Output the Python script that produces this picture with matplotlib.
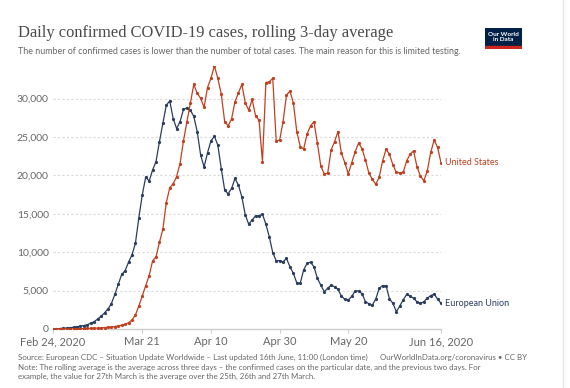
import matplotlib
matplotlib.use("Agg")
import matplotlib.pyplot as plt
import matplotlib.dates as mdates
import pandas as pd

# daily confirmed cases, rolling 3-day average (Feb 24 - Jun 16, 2020)
dates = pd.date_range("2020-02-24", "2020-06-16", freq="D")

eu = [25, 40, 60, 90, 120, 170, 230, 300, 380, 450,
      560, 750, 950, 1300, 1650, 2100, 2600, 3300, 4500, 5800,
      7100, 7600, 8700, 9650, 11150, 14500, 17450, 19800, 19250, 20700,
      21800, 24400, 26800, 29150, 29700, 27400, 26100, 27000, 28600, 28800,
      28500, 27700, 25700, 22650, 21100, 22950, 24500, 25100, 23950, 20900,
      18100, 17600, 18300, 19600, 18750, 17200, 14850, 13650, 14200, 14750,
      14750, 14950, 13650, 12000, 9950, 8900, 8900, 8750, 9200, 8100,
      7250, 6000, 5950, 7700, 8550, 8700, 8100, 6600, 5700, 4850,
      5300, 5700, 5500, 5150, 4300, 3850, 3800, 4250, 4950, 4950,
      4600, 3550, 3300, 3100, 3900, 5300, 5650, 5650, 3900, 3350,
      2250, 3000, 3800, 4500, 4300, 4000, 3550, 3350, 3550, 4000,
      4350, 4550, 3900, 3350]

us = [5, 5, 8, 10, 12, 15, 20, 30, 40, 55,
      70, 85, 100, 120, 150, 180, 220, 260, 320, 400,
      500, 620, 820, 1170, 1820, 3000, 4300, 5650, 6950, 8850,
      9400, 11300, 13000, 16450, 18400, 18900, 19850, 21550, 24500, 27000,
      29400, 31850, 30700, 30050, 28850, 31450, 32650, 34250, 32650, 30600,
      27000, 26450, 27350, 29600, 30750, 31850, 29450, 28500, 29900, 27750,
      27200, 21800, 32100, 32200, 32650, 24500, 24600, 27000, 30450, 31000,
      29450, 25700, 23750, 23450, 25400, 26450, 27000, 24200, 21200, 20200,
      20300, 23300, 24400, 25700, 22900, 21650, 20200, 21650, 23100, 24200,
      23500, 22000, 20300, 19500, 18850, 19750, 21900, 23400, 22750, 21350,
      20400, 20350, 20400, 21900, 22750, 23200, 21150, 19900, 19300, 20600,
      23000, 24600, 23650, 21650]

tick_dates = ["2020-02-24", "2020-03-21", "2020-04-10", "2020-04-30", "2020-05-20", "2020-06-16"]
tick_labels = ["Feb 24, 2020", "Mar 21", "Apr 10", "Apr 30", "May 20", "Jun 16, 2020"]
y_ticks = [0, 5000, 10000, 15000, 20000, 25000, 30000]

us_color = "#c1401f"
eu_color = "#2b3d5f"
grey = "#666666"

plt.rcParams['font.family'] = ['Lato', 'DejaVu Sans']

fig = plt.figure(figsize=(5.7, 3.88), dpi=100)
ax = fig.add_axes([53/570, 59/388, 388/570, 263/388])

ax.plot(dates, eu, color=eu_color, linewidth=0.9, marker="o", markersize=1.3, zorder=3)
ax.plot(dates, us, color=us_color, linewidth=0.9, marker="o", markersize=1.3, zorder=3)

ax.set_xlim(dates[0], dates[-1])
ax.set_ylim(0, max(us))

ax.set_yticks(y_ticks)
ax.set_yticklabels(["0" if v == 0 else f"{v:,}" for v in y_ticks])
ax.set_xticks(pd.to_datetime(tick_dates))
ax.set_xticklabels(tick_labels)

for v in y_ticks[1:]:
    ax.axhline(v, color="#d9d9d9", linewidth=0.8, linestyle=(0, (2, 2)), zorder=1)

for s in ["top", "right", "left"]:
    ax.spines[s].set_visible(False)
ax.spines["bottom"].set_color("#cccccc")
ax.spines["bottom"].set_linewidth(1)
ax.tick_params(axis="y", length=0, pad=3, labelsize=7.5, labelcolor=grey)
ax.tick_params(axis="x", length=3, color="#cccccc", pad=2, labelsize=8, labelcolor=grey)

# line end labels
ax.annotate("United States", (dates[-1], us[-1]), xytext=(3, 0), textcoords="offset points",
            color=us_color, fontsize=6.5, va="center", ha="left", annotation_clip=False)
ax.annotate("European Union", (dates[-1], eu[-1]), xytext=(3, 0), textcoords="offset points",
            color=eu_color, fontsize=6.5, va="center", ha="left", annotation_clip=False)

# title and subtitle
fig.text(18/570, 1 - 37/388, "Daily confirmed COVID-19 cases, rolling 3-day average",
         family=["Liberation Serif", "DejaVu Serif"], fontsize=11.9, color="#4a4a4a", va="baseline")
fig.text(18/570, 1 - 54/388,
         "The number of confirmed cases is lower than the number of total cases. The main reason for this is limited testing.",
         fontsize=6.4, color=grey, va="baseline")

# logo
logo = fig.add_axes([485/570, 1 - 49/388, 37/570, 21/388])
logo.set_xlim(0, 1)
logo.set_ylim(0, 1)
logo.axis("off")
logo.add_patch(plt.Rectangle((0, 0.12), 1, 0.88, color="#002147"))
logo.add_patch(plt.Rectangle((0, 0), 1, 0.12, color="#ce261e"))
logo.text(0.5, 0.58, "Our World\nin Data", color="white", fontsize=4.6, ha="center", va="center",
          linespacing=0.95, fontweight="bold")

# footer
foot = 5.65
fig.text(18/570, 1 - 360/388,
         "Source: European CDC – Situation Update Worldwide – Last updated 16th June, 11:00 (London time)",
         fontsize=foot, color=grey, va="baseline")
fig.text(527/570, 1 - 360/388, "OurWorldInData.org/coronavirus • CC BY",
         fontsize=foot, color=grey, va="baseline", ha="right")
fig.text(18/570, 1 - 370/388,
         "Note: The rolling average is the average across three days – the confirmed cases on the particular date, and the previous two days. For",
         fontsize=foot, color=grey, va="baseline")
fig.text(18/570, 1 - 379/388,
         "example, the value for 27th March is the average over the 25th, 26th and 27th March.",
         fontsize=foot, color=grey, va="baseline")

# right border
fig.add_artist(plt.Line2D([563/570, 563/570], [0, 1], color="#e6e6e6", linewidth=1))

fig.savefig("out.png", dpi=100)
